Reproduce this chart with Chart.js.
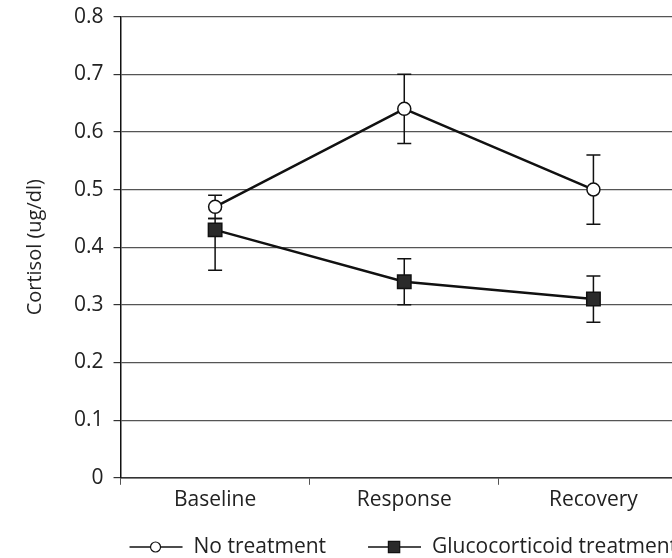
<!DOCTYPE html>
<html>
<head>
<meta charset="utf-8">
<script src="https://cdn.jsdelivr.net/npm/chart.js@4"></script>
<style>
  html, body { margin: 0; padding: 0; background: #fff; overflow: hidden; }
  #wrap { width: 699px; height: 564px; margin-top: -6px; }
</style>
</head>
<body>
<div id="wrap"><canvas id="cortisolChart"></canvas></div>
<script>
(() => {
    // datos
    const categorias = ['Baseline', 'Response', 'Recovery'];
    const sinTratamiento = [0.47, 0.64, 0.50];
    const sinTratamientoBajo = [0.45, 0.58, 0.44];
    const sinTratamientoAlto = [0.49, 0.70, 0.56];
    const gluco = [0.43, 0.34, 0.31];
    const glucoBajo = [0.36, 0.30, 0.27];
    const glucoAlto = [0.45, 0.38, 0.35];
    const ejeY = { min: 0, max: 0.8, paso: 0.1 };
    const errores = [
        { bajo: sinTratamientoBajo, alto: sinTratamientoAlto },
        { bajo: glucoBajo, alto: glucoAlto }
    ];

    const fuente = '"Open Sans", "Noto Sans", sans-serif';
    Chart.defaults.font.family = fuente;
    Chart.defaults.color = '#222';

    // barras de error, debajo de los marcadores
    const barrasError = {
        id: 'barrasError',
        beforeDatasetsDraw(chart) {
            const { ctx, scales } = chart;
            ctx.save();
            ctx.strokeStyle = '#111';
            ctx.lineWidth = 1.5;
            errores.forEach((err, i) => {
                const meta = chart.getDatasetMeta(i);
                meta.data.forEach((pt, j) => {
                    const yAlto = scales.y.getPixelForValue(err.alto[j]);
                    const yBajo = scales.y.getPixelForValue(err.bajo[j]);
                    ctx.beginPath();
                    ctx.moveTo(pt.x, yAlto);
                    ctx.lineTo(pt.x, yBajo);
                    ctx.moveTo(pt.x - 7, yAlto);
                    ctx.lineTo(pt.x + 7, yAlto);
                    ctx.moveTo(pt.x - 7, yBajo);
                    ctx.lineTo(pt.x + 7, yBajo);
                    ctx.stroke();
                });
            });
            ctx.restore();
        }
    };

    // leyenda con linea y marcador, como en la figura original
    const leyenda = {
        id: 'leyenda',
        afterDraw(chart) {
            const { ctx, chartArea } = chart;
            const y = chart.height - 11;
            let x = chartArea.left + 9;
            ctx.save();
            ctx.font = '21px ' + fuente;
            ctx.textBaseline = 'middle';
            chart.data.datasets.forEach((ds) => {
                ctx.strokeStyle = '#111';
                ctx.lineWidth = 1.5;
                ctx.beginPath();
                ctx.moveTo(x, y);
                ctx.lineTo(x + 53, y);
                ctx.stroke();
                ctx.fillStyle = ds.pointBackgroundColor;
                ctx.strokeStyle = '#111';
                ctx.lineWidth = 1.2;
                Chart.helpers.drawPoint(ctx, {
                    pointStyle: ds.pointStyle,
                    radius: ds.pointStyle === 'rect' ? 8 : 5,
                    rotation: 0,
                    borderWidth: 1.2
                }, x + 26, y);
                x += 64;
                ctx.fillStyle = '#222';
                ctx.fillText(ds.label, x, y);
                x += ctx.measureText(ds.label).width + 42;
            });
            ctx.restore();
        }
    };

    const ctx = document.getElementById('cortisolChart');
    new Chart(ctx, {
        type: 'line',
        data: {
            labels: categorias,
            datasets: [{
                label: 'No treatment',
                data: sinTratamiento,
                borderColor: '#111',
                borderWidth: 2.5,
                pointStyle: 'circle',
                pointRadius: 6.5,
                pointBackgroundColor: '#fff',
                pointBorderColor: '#111',
                pointBorderWidth: 1.5,
                tension: 0
            }, {
                label: 'Glucocorticoid treatment',
                data: gluco,
                borderColor: '#111',
                borderWidth: 2.5,
                pointStyle: 'rect',
                pointRadius: 9.5,
                pointBackgroundColor: '#2a2a2a',
                pointBorderColor: '#111',
                pointBorderWidth: 1.5,
                tension: 0
            }]
        },
        options: {
            responsive: true,
            maintainAspectRatio: false,
            animation: false,
            layout: { padding: { top: 0, right: 3, bottom: 42, left: 0 } },
            plugins: {
                legend: { display: false },
                tooltip: { enabled: false }
            },
            scales: {
                x: {
                    offset: true,
                    grid: {
                        offset: true,
                        drawOnChartArea: false,
                        tickLength: 7,
                        color: '#555',
                        lineWidth: 1
                    },
                    border: { color: '#333', width: 1.5 },
                    ticks: { font: { size: 21 }, padding: 3, color: '#222' }
                },
                y: {
                    min: ejeY.min,
                    max: ejeY.max,
                    grid: {
                        color: '#555',
                        lineWidth: 1.2,
                        tickLength: 7,
                        tickColor: '#333'
                    },
                    border: { color: '#111', width: 1.5 },
                    ticks: {
                        stepSize: ejeY.paso,
                        font: { size: 21 },
                        padding: 10,
                        color: '#222'
                    },
                    title: {
                        display: true,
                        text: 'Cortisol (ug/dl)',
                        font: { size: 20 },
                        color: '#222',
                        padding: { top: 23, bottom: 17 }
                    }
                }
            }
        },
        plugins: [barrasError, leyenda]
    });
})();
</script>
</body>
</html>
